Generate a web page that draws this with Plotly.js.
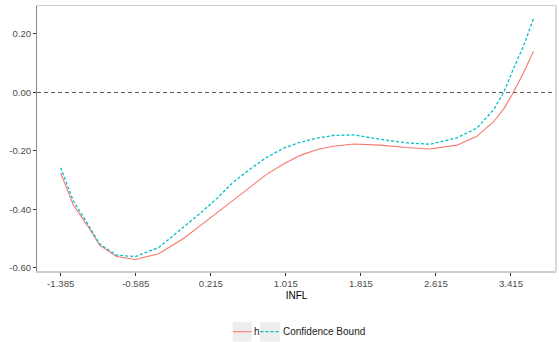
<!DOCTYPE html>
<html>
<head>
<meta charset="utf-8">
<script src="https://cdn.plot.ly/plotly-3.0.1.min.js"></script>
<style>
html,body{margin:0;padding:0;background:#fff;}
#chart{width:559px;height:342px;}
</style>
</head>
<body>
<div id="chart"></div>
<script>
// ---- data ----
const infl = [-1.385, -1.25, -1.10, -0.97, -0.79, -0.59, -0.34, -0.08, 0.10, 0.28, 0.45, 0.65, 0.81, 1.00, 1.17, 1.35, 1.52, 1.74, 2.02, 2.30, 2.55, 2.84, 3.05, 3.23, 3.34, 3.44, 3.55, 3.655];
const hValues = [-0.275, -0.385, -0.455, -0.522, -0.561, -0.571, -0.551, -0.500, -0.456, -0.412, -0.369, -0.320, -0.280, -0.243, -0.215, -0.195, -0.184, -0.176, -0.180, -0.188, -0.193, -0.180, -0.150, -0.100, -0.055, 0.000, 0.068, 0.141];
const boundValues = [-0.257, -0.371, -0.448, -0.518, -0.556, -0.561, -0.530, -0.460, -0.414, -0.362, -0.308, -0.258, -0.222, -0.189, -0.170, -0.156, -0.147, -0.145, -0.160, -0.172, -0.177, -0.155, -0.122, -0.059, 0.002, 0.080, 0.160, 0.252];
const seriesNames = ["h", "Confidence Bound"];
const xTickVals = [-1.385, -0.585, 0.215, 1.015, 1.815, 2.615, 3.415];
const xTickText = ["-1.385", "-0.585", "0.215", "1.015", "1.815", "2.615", "3.415"];
const yTickVals = [-0.6, -0.4, -0.2, 0.0, 0.2];
const yTickText = ["-0.60", "-0.40", "-0.20", "0.00", "0.20"];
const refLineY = 0;
const xTitle = "INFL";

const red = "#F8766D", cyan = "#00BFC4";
const font = "Liberation Sans, Arial, sans-serif";

const traces = [
  {x: infl, y: hValues, name: seriesNames[0], type: "scatter", mode: "lines",
   line: {color: red, width: 1.1}, showlegend: false},
  {x: infl, y: boundValues, name: seriesNames[1], type: "scatter", mode: "lines",
   line: {color: cyan, width: 1.3, dash: "3px,2px"}, showlegend: false}
];

// legend geometry (pixels -> paper)
const L = 37, R = 556, T = 6, B = 271;
const px = v => (v - L) / (R - L);
const py = v => (B - v) / (B - T);

const shapes = [
  {type: "line", xref: "paper", yref: "y", x0: 0, x1: 1, y0: refLineY, y1: refLineY,
   line: {color: "#5a5a5a", width: 1, dash: "4px,3px"}},
  {type: "line", xref: "paper", yref: "paper", x0: 1, x1: 1, y0: 0, y1: 1,
   line: {color: "#cccccc", width: 1.5}},
  {type: "rect", xref: "paper", yref: "paper", x0: px(232.7), x1: px(251.7), y0: py(341.5), y1: py(322),
   fillcolor: "#ededed", line: {width: 0}},
  {type: "rect", xref: "paper", yref: "paper", x0: px(260), x1: px(280), y0: py(341.5), y1: py(322),
   fillcolor: "#ededed", line: {width: 0}},
  {type: "line", xref: "paper", yref: "paper", x0: px(233), x1: px(251.5), y0: py(331.7), y1: py(331.7),
   line: {color: red, width: 1.1}},
  {type: "line", xref: "paper", yref: "paper", x0: px(260.5), x1: px(280), y0: py(331.7), y1: py(331.7),
   line: {color: cyan, width: 1.3, dash: "3px,2px"}}
];

const annotations = [
  {xref: "paper", yref: "paper", x: px(252), y: py(331.7), text: seriesNames[0], showarrow: false,
   xanchor: "left", yanchor: "middle", font: {family: font, size: 10, color: "#1a1a1a"}},
  {xref: "paper", yref: "paper", x: px(280.5), y: py(331.7), text: seriesNames[1], showarrow: false,
   xanchor: "left", yanchor: "middle", font: {family: font, size: 10, color: "#1a1a1a"}}
];

const layout = {
  width: 559, height: 342,
  margin: {l: L, r: 559 - R, t: T, b: 342 - B},
  paper_bgcolor: "#ffffff", plot_bgcolor: "#ffffff",
  font: {family: font},
  showlegend: false,
  xaxis: {
    range: [-1.6376, 3.895], tickvals: xTickVals, ticktext: xTickText,
    showgrid: false, zeroline: false,
    showline: true, linecolor: "#cccccc", linewidth: 1.5, mirror: true,
    ticks: "outside", ticklen: 3, tickcolor: "#333333", tickwidth: 1,
    tickfont: {family: font, size: 9.6, color: "#4d4d4d"},
    title: {text: xTitle, font: {family: font, size: 10, color: "#000000"}, standoff: 4},
    automargin: false
  },
  yaxis: {
    range: [-0.6103, 0.2957], tickvals: yTickVals, ticktext: yTickText,
    showgrid: false, zeroline: false,
    showline: true, linecolor: "#888888", linewidth: 1,
    ticks: "outside", ticklen: 3, tickcolor: "#333333", tickwidth: 1,
    tickfont: {family: font, size: 9.6, color: "#4d4d4d"},
    automargin: false
  },
  shapes: shapes,
  annotations: annotations
};

Plotly.newPlot("chart", traces, layout, {displayModeBar: false, staticPlot: true});
</script>
</body>
</html>
